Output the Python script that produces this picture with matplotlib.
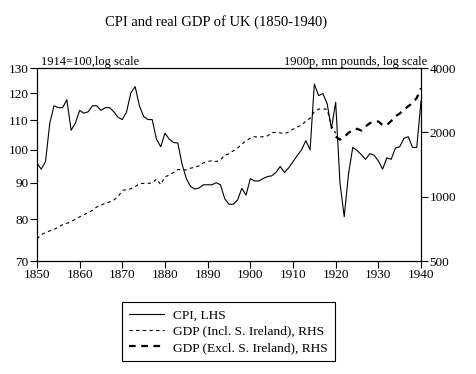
import matplotlib
matplotlib.use("Agg")
import matplotlib.pyplot as plt
from matplotlib.ticker import FixedLocator, FixedFormatter, NullLocator

plt.rcParams["font.family"] = ["Liberation Serif", "DejaVu Serif"]
plt.rcParams["font.size"] = 9

# CPI, 1914=100
cpi_years = list(range(1850, 1941))
cpi = [
    95.8, 94.0, 96.3, 109.0, 115.2, 114.5, 114.5, 117.4, 106.5, 109.0,
    113.5, 112.5, 113.0, 115.2, 115.2, 113.5, 114.5, 114.5, 113.0, 111.0,
    110.2, 113.0, 120.1, 122.5, 115.2, 111.3, 110.2, 110.2, 103.5, 101.0,
    105.5, 103.5, 102.4, 102.2, 95.5, 91.2, 88.9, 88.2, 88.5, 89.4,
    89.4, 89.4, 90.0, 89.4, 85.5, 84.0, 84.0, 85.1, 88.4, 86.5,
    91.2, 90.5, 90.5, 91.2, 91.8, 92.0, 93.0, 94.8, 93.0, 94.4,
    96.3, 98.2, 100.0, 103.0, 100.0, 123.5, 119.0, 119.8, 116.0, 107.0,
    116.5, 90.0, 80.7, 92.5, 100.8, 99.8, 98.5, 97.0, 98.8, 98.3,
    96.5, 94.0, 97.5, 97.0, 100.6, 101.0, 103.8, 104.3, 100.8, 100.8,
    117.0,
]

# real GDP incl. southern Ireland, 1900 prices, mn pounds
gdp_incl_years = list(range(1850, 1921))
gdp_incl = [
    635, 665, 680, 692, 705, 718, 740, 750, 765, 785,
    805, 825, 840, 865, 895, 915, 930, 945, 965, 1000,
    1070, 1080, 1090, 1115, 1150, 1155, 1155, 1160, 1210, 1140,
    1240, 1262, 1300, 1340, 1340, 1335, 1360, 1375, 1395, 1440,
    1460, 1475, 1460, 1490, 1560, 1590, 1640, 1690, 1760, 1830,
    1880, 1910, 1900, 1910, 1925, 1995, 2000, 1990, 1975, 2010,
    2070, 2120, 2160, 2260, 2330, 2500, 2570, 2580, 2560, 2150,
    1980,
]

# real GDP excl. southern Ireland
gdp_excl_years = list(range(1920, 1941))
gdp_excl = [
    1910, 1850, 1900, 1990, 2050, 2080, 2040, 2130, 2210, 2240,
    2250, 2165, 2165, 2260, 2380, 2450, 2560, 2650, 2740, 2900,
    3220,
]

left_ticks = [70, 80, 90, 100, 110, 120, 130]
right_ticks = [500, 1000, 2000, 4000]
x_ticks = list(range(1850, 1941, 10))

fig = plt.figure(figsize=(4.76, 3.74), dpi=100)
ax = fig.add_axes([0.0777, 0.302, 0.8068, 0.516])
ax2 = ax.twinx()

l1, = ax.plot(cpi_years, cpi, color="black", lw=0.8, label="CPI, LHS")
l2, = ax2.plot(gdp_incl_years, gdp_incl, color="black", lw=0.8,
               dashes=(3, 3), label="GDP (Incl. S. Ireland), RHS")
l3, = ax2.plot(gdp_excl_years, gdp_excl, color="black", lw=1.6,
               dashes=(3, 2.5), label="GDP (Excl. S. Ireland), RHS")

ax.set_yscale("log")
ax.set_ylim(70, 130)
ax.yaxis.set_major_locator(FixedLocator(left_ticks))
ax.yaxis.set_major_formatter(FixedFormatter([str(t) for t in left_ticks]))
ax.yaxis.set_minor_locator(NullLocator())

ax2.set_yscale("log")
ax2.set_ylim(500, 4000)
ax2.yaxis.set_major_locator(FixedLocator(right_ticks))
ax2.yaxis.set_major_formatter(FixedFormatter([str(t) for t in right_ticks]))
ax2.yaxis.set_minor_locator(NullLocator())

ax.set_xlim(1850, 1940)
ax.set_xticks(x_ticks)

for a in (ax, ax2):
    a.tick_params(direction="out", length=5, width=0.8, labelsize=9.5, pad=1)
    for s in a.spines.values():
        s.set_linewidth(0.8)

ax.text(0.01, 1.0, "1914=100,log scale", transform=ax.transAxes,
        ha="left", va="bottom", fontsize=9)
ax.text(1.015, 1.0, "1900p, mn pounds, log scale", transform=ax.transAxes,
        ha="right", va="bottom", fontsize=9)

fig.text(0.453, 0.941, "CPI and real GDP of UK (1850-1940)",
         ha="center", va="center", fontsize=10.5)

leg = fig.legend(handles=[l1, l2, l3], loc="upper left",
                 bbox_to_anchor=(0.256, 0.1925), fancybox=False,
                 edgecolor="black", framealpha=1, fontsize=9.6,
                 handlelength=2.6, handletextpad=0.7, labelspacing=0.28,
                 borderpad=0.55, borderaxespad=0)
leg.get_frame().set_linewidth(0.8)

fig.savefig("out.png", dpi=100)
